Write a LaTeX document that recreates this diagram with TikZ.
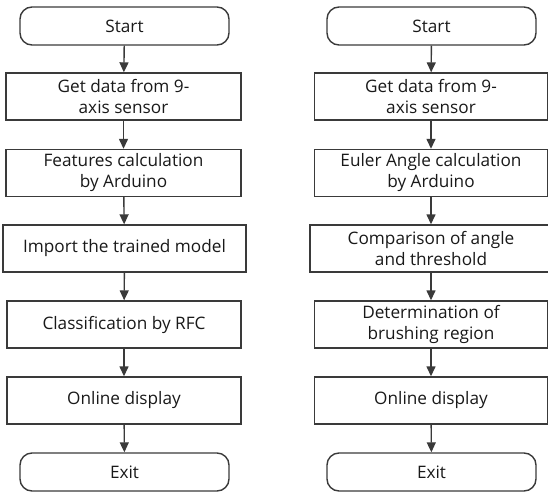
\documentclass[tikz,border=0pt]{standalone}
\usepackage{fontspec}
\setmainfont{Open Sans}
\usetikzlibrary{arrows.meta}
\definecolor{edge}{HTML}{3A3A3A}
\tikzset{
  x=1pt, y=-1pt,
  proc/.style={draw=edge, line width=1.4pt, minimum height=47pt, align=center,
    font=\fontsize{17.2}{21}\selectfont, inner sep=0pt, text=black!90},
  term/.style={proc, rounded corners=12pt, minimum height=38pt, minimum width=209pt},
  flow/.style={draw=edge, line width=1.4pt, -{Triangle[length=10pt, width=9pt]}},
}
\begin{document}
\begin{tikzpicture}
\useasboundingbox (0,0) rectangle (548,492);
% left column
\node[term] (ls) at (124.5,26) {Start};
\node[proc, minimum width=235pt] (l1) at (123.5,96.5) {Get data from 9-\\axis sensor};
\node[proc, minimum width=235pt] (l2) at (123.5,173) {Features calculation\\by Arduino};
\node[proc, minimum width=243pt] (l3) at (124.5,248.5) {Import the trained model};
\node[proc, minimum width=234pt] (l4) at (124,324.5) {Classification by RFC};
\node[proc, minimum width=234pt] (l5) at (124,400.5) {Online display};
\node[term] (le) at (124.5,472) {Exit};
% right column
\node[term] (rs) at (431.5,26) {Start};
\node[proc, minimum width=233pt] (r1) at (431,96.5) {Get data from 9-\\axis sensor};
\node[proc, minimum width=233pt] (r2) at (431,173) {Euler Angle calculation\\by Arduino};
\node[proc, minimum width=242pt] (r3) at (431,248.5) {Comparison of angle\\and threshold};
\node[proc, minimum width=233pt] (r4) at (431,324.5) {Determination of\\brushing region};
\node[proc, minimum width=233pt] (r5) at (431,400.5) {Online display};
\node[term] (re) at (431.5,472) {Exit};
% connectors
\foreach \a/\b in {ls/l1,l1/l2,l2/l3,l3/l4,l4/l5,l5/le,rs/r1,r1/r2,r2/r3,r3/r4,r4/r5,r5/re}
  \draw[flow] (\a) -- (\b);
\end{tikzpicture}
\end{document}
